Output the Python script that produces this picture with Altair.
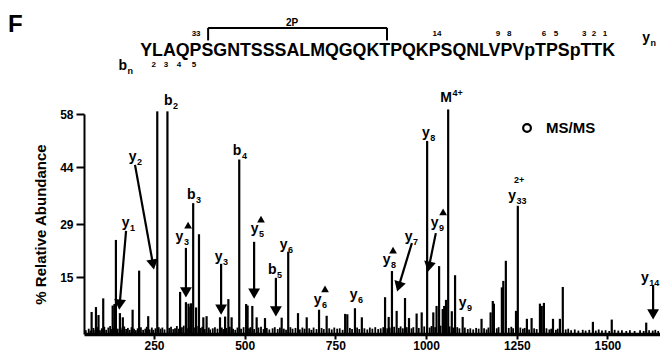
import math
import altair as alt
import pandas as pd

# ---------------- data ----------------
peak_mz = [78, 90, 97, 110, 136, 141, 145, 156, 164, 191,
           209, 234, 259, 287, 322, 338, 345, 350, 352, 358,
           366, 374, 386, 395, 432, 446, 455, 464, 485, 504,
           508, 521, 533, 556, 602, 620, 647, 671, 705, 726,
           777, 783, 804, 823, 887, 897, 906, 919, 942, 953,
           974, 988, 1003, 1020, 1029, 1036, 1046, 1050, 1055, 1061,
           1071, 1080, 1101, 1153, 1178, 1184, 1187, 1209, 1213, 1220,
           1248, 1253, 1278, 1291, 1314, 1319, 1325, 1350, 1369, 1377,
           1460, 1512, 1607]
peak_val = [5.8, 7.1, 5.0, 9.4, 7.5, 7.9, 24.8, 5.5, 4.4, 6.4,
            16.7, 4.7, 58.7, 58.7, 11.1, 8.4, 8.0, 7.2, 8.1, 34.5,
            7.0, 26.3, 4.4, 4.7, 4.4, 4.6, 9.2, 4.4, 46.0, 7.9,
            7.5, 7.4, 4.4, 4.2, 4.3, 21.7, 5.5, 4.4, 6.4, 4.8,
            5.3, 5.2, 6.8, 4.4, 9.7, 4.5, 16.6, 6.1, 9.5, 4.2,
            5.4, 5.7, 50.9, 5.7, 7.4, 17.9, 6.6, 7.4, 9.0, 59.2,
            6.0, 15.5, 4.5, 4.0, 5.7, 8.7, 8.0, 12.3, 14.0, 19.3,
            6.1, 33.8, 4.0, 4.2, 8.0, 7.4, 8.2, 4.0, 4.0, 12.4,
            3.2, 3.8, 3.0]

noise_peaks = [
    (62, 1.0), (70, 1.4), (75, 0.9), (83, 1.6), (88, 1.1), (95, 1.8), (101, 1.0), (106, 1.5),
    (113, 1.9), (118, 1.1), (124, 1.7), (129, 2.1), (133, 1.3), (138, 1.6), (143, 1.8), (150, 1.4),
    (158, 1.7), (162, 1.2), (168, 2.0), (173, 1.3), (178, 1.6), (183, 1.1), (188, 1.8), (195, 1.4),
    (200, 1.0), (205, 1.5), (214, 1.8), (220, 1.1), (226, 1.4), (230, 1.9), (238, 1.2), (244, 1.7),
    (248, 1.1), (254, 1.5), (263, 1.8), (268, 1.4), (273, 1.7), (279, 1.2), (292, 1.6), (297, 1.9),
    (303, 1.3), (308, 1.5), (313, 2.1), (318, 1.4), (327, 1.8), (332, 2.2), (341, 1.5), (349, 1.8),
    (363, 1.7), (368, 2.1), (379, 1.6), (383, 1.9), (390, 1.3), (401, 1.7), (405, 1.2), (412, 1.5),
    (418, 1.8), (425, 1.4), (437, 1.7), (441, 1.3), (450, 1.6), (459, 1.9), (468, 1.4), (474, 1.1),
    (480, 1.7), (490, 1.4), (497, 1.8), (512, 1.5), (516, 1.8), (526, 1.3), (538, 1.7), (545, 1.9),
    (552, 1.3), (561, 1.6), (568, 1.2), (577, 1.5), (583, 1.8), (591, 1.3), (597, 1.7), (608, 1.4),
    (614, 1.1), (626, 1.8), (632, 1.4), (640, 1.6), (652, 1.2), (659, 1.7), (665, 1.4), (678, 1.5),
    (684, 1.1), (690, 1.7), (698, 1.3), (712, 1.6), (718, 1.3), (733, 1.5), (740, 1.2), (747, 1.7),
    (755, 1.4), (762, 1.5), (770, 1.1), (790, 1.6), (796, 1.3), (810, 1.7), (816, 1.3), (830, 1.5),
    (838, 1.2), (845, 1.7), (852, 1.4), (860, 1.8), (868, 1.3), (875, 1.5), (882, 1.8), (893, 1.5),
    (900, 1.7), (912, 1.9), (925, 1.6), (930, 2.0), (936, 1.5), (947, 1.8), (960, 1.5), (965, 1.8),
    (980, 1.6), (995, 2.0), (1010, 1.7), (1015, 2.1), (1025, 1.8), (1040, 2.2), (1065, 2.0), (1075, 1.7),
    (1086, 1.8), (1092, 1.5), (1107, 1.7), (1115, 1.3), (1122, 1.5), (1130, 1.2), (1138, 1.6), (1145, 1.4),
    (1160, 1.5), (1167, 1.2), (1172, 1.7), (1195, 1.5), (1200, 1.8), (1228, 1.6), (1235, 1.9), (1240, 1.5),
    (1260, 1.7), (1267, 1.4), (1272, 1.6), (1284, 1.2), (1298, 1.5), (1305, 1.3), (1332, 1.5), (1340, 1.2),
    (1345, 1.4), (1358, 1.1), (1363, 1.4), (1385, 1.2), (1392, 1.4), (1400, 1.0), (1410, 1.2), (1420, 0.9),
    (1432, 1.1), (1440, 0.9), (1450, 1.1), (1468, 0.9), (1476, 1.2), (1485, 0.9), (1495, 1.0), (1505, 0.8),
    (1520, 1.1), (1530, 0.9), (1540, 1.0), (1552, 0.8), (1562, 1.0), (1575, 0.8), (1590, 1.0), (1600, 0.8),
    (1615, 1.0), (1625, 0.9), (1632, 1.1), (1640, 0.8),
]

# ion labels: main letter, subscript, superscript, anchor (m/z, %)
label_main = ["b", "y", "y", "b", "y", "y", "b", "y", "y", "b", "y", "y", "y", "y", "y", "y", "y", "y", "y", "M", "y", "b"]
label_sub = ["2", "2", "1", "3", "3", "3", "4", "5", "6", "5", "6", "6", "8", "7", "8", "9", "9", "33", "14", "", "n", "n"]
label_sup = ["", "", "", "", "", "", "", "", "", "", "", "", "", "", "", "", "", "", "", "4+", "", ""]
label_mz = [301, 202, 182.5, 364.5, 331, 439, 491, 538, 618, 588, 712, 811, 902, 963, 1010, 1034.5, 1111.6, 1248, 1614, 1071.6, 1617.6, 175.7]
label_val = [61.4, 46.7, 29.3, 36.6, 25.6, 20.3, 48.2, 27.7, 23.5, 16.9, 9.0, 10.3, 19.5, 25.6, 53.0, 29.3, 8.2, 36.4, 14.8, 62.2, 78.0, 70.6]

# triangle markers next to labels
marker_mz = [344, 545, 721.5, 909, 1047]
marker_val = [28.7, 30.3, 11.9, 22.1, 32.2]

# arrows (start -> tip)
arrow_from_mz = [173, 197.6, 338, 435, 526, 586, 961, 1027, 1626]
arrow_from_val = [27.2, 44.6, 22.7, 18.5, 24.3, 14.8, 24.0, 26.6, 12.9]
arrow_to_mz = [154, 250, 338, 435, 526, 586, 920, 1005, 1626]
arrow_to_val = [6.3, 16.9, 9.5, 5.0, 9.2, 4.5, 11.1, 16.3, 3.7]

# header: sequence and residue numbers
sequence = "YLAQPSGNTSSSALMQGQKTPQKPSQNLVPVpTPSpTTK"
num_text = ["33", "14", "9", "8", "6", "5", "3", "2", "1", "2", "3", "4", "5"]
num_mz = [366, 1030, 1198, 1229, 1325, 1358, 1436, 1463, 1493, 249, 283, 319, 360]
num_val = [79.2, 79.2, 79.2, 79.2, 79.2, 79.2, 79.2, 79.2, 79.2, 71.0, 71.0, 71.0, 71.0]

x_ticks = [250, 500, 750, 1000, 1250, 1500]
y_ticks = [15, 29, 44, 58]

# ---------------- layout ----------------
FONT = "Liberation Sans"
W, H = 576, 220
XD = [57, 1645]
YD = [0, 58]
KX = W / (XD[1] - XD[0])
KY = H / (YD[1] - YD[0])

xs = alt.Scale(domain=XD, nice=False, zero=False)
ys = alt.Scale(domain=YD, nice=False, zero=False)

x_axis = alt.Axis(values=x_ticks, format="d", title=None, grid=False,
                  labelFont=FONT, labelFontSize=12, labelFontWeight="bold", labelColor="black",
                  labelPadding=1, tickSize=5, tickWidth=2, tickColor="black",
                  domainWidth=3.5, domainColor="black")
y_axis = alt.Axis(values=y_ticks, title="% Relative Abundance", grid=False,
                  titleFont=FONT, titleFontSize=15, titleFontWeight="bold", titleColor="black",
                  titleAngle=270, titleX=-44, titleY=H / 2, titleAlign="center", titleBaseline="middle",
                  labelFont=FONT, labelFontSize=12, labelFontWeight="bold", labelColor="black",
                  labelPadding=3, tickSize=8, tickWidth=2, tickColor="black",
                  domainWidth=2, domainColor="black")


def X(f):
    return alt.X(f, type="quantitative", scale=xs, axis=x_axis)


def Y(f):
    return alt.Y(f, type="quantitative", scale=ys, axis=y_axis)


peaks_df = pd.DataFrame({"mz": peak_mz, "val": peak_val, "base": 0.0})
noise_df = pd.DataFrame({"mz": [p[0] for p in noise_peaks], "val": [p[1] for p in noise_peaks], "base": 0.0})
labels_df = pd.DataFrame({"main": label_main, "sub": label_sub, "sup": label_sup,
                          "mz": label_mz, "val": label_val})
markers_df = pd.DataFrame({"mz": marker_mz, "val": marker_val})

rows = []
for fm, fv, tm, tv in zip(arrow_from_mz, arrow_from_val, arrow_to_mz, arrow_to_val):
    dx = (tm - fm) * KX
    dy = -(tv - fv) * KY
    L = math.hypot(dx, dy)
    ux, uy = dx / L, dy / L
    back = 5.5
    hm = tm - back * ux / KX
    hv = tv + back * uy / KY
    ang = (math.degrees(math.atan2(ux, -uy)) + 360) % 360
    rows.append({"mz": fm, "val": fv, "hm": hm, "hv": hv, "angle": ang})
arrows_df = pd.DataFrame(rows)

peaks = alt.Chart(peaks_df).mark_rule(color="black", strokeWidth=2.2).encode(
    x=X("mz"), y=Y("val"), y2="base")
noise = alt.Chart(noise_df).mark_rule(color="black", strokeWidth=1.8).encode(
    x=X("mz"), y=Y("val"), y2="base")

shafts = alt.Chart(arrows_df).mark_rule(color="black", strokeWidth=2.2).encode(
    x=X("mz"), y=Y("val"), x2="hm", y2="hv")
heads = alt.Chart(arrows_df).mark_point(shape="triangle-up", filled=True, size=140,
                                        color="black", opacity=1).encode(
    x=X("hm"), y=Y("hv"), angle=alt.Angle("angle:Q", scale=None))

markers = alt.Chart(markers_df).mark_point(shape="triangle-up", filled=True, size=60,
                                           color="black", opacity=1).encode(x=X("mz"), y=Y("val"))

main_txt = alt.Chart(labels_df).mark_text(align="right", baseline="middle", font=FONT,
                                          fontSize=14, fontWeight="bold", color="black").encode(
    x=X("mz"), y=Y("val"), text="main")
sub_txt = alt.Chart(labels_df).mark_text(align="left", baseline="middle", font=FONT, dx=0.5, dy=5,
                                         fontSize=9, fontWeight="bold", color="black").encode(
    x=X("mz"), y=Y("val"), text="sub")
sup_txt = alt.Chart(labels_df).mark_text(align="left", baseline="middle", font=FONT, dx=0.5, dy=-5,
                                         fontSize=9, fontWeight="bold", color="black").encode(
    x=X("mz"), y=Y("val"), text="sup")

extra_df = pd.DataFrame({"t": ["2+"], "mz": [1256.6], "val": [40.6]})
extra_txt = alt.Chart(extra_df).mark_text(align="center", baseline="middle", font=FONT,
                                          fontSize=9, fontWeight="bold", color="black").encode(
    x=X("mz"), y=Y("val"), text="t")

seq_df = pd.DataFrame({"t": [sequence], "mz": [212.0], "val": [73.2]})
seq_txt = alt.Chart(seq_df).mark_text(align="left", baseline="alphabetic", font=FONT,
                                      fontSize=17.8, fontWeight="bold", color="black").encode(
    x=X("mz"), y=Y("val"), text="t")

num_df = pd.DataFrame({"t": num_text, "mz": num_mz, "val": num_val})
num_txt = alt.Chart(num_df).mark_text(align="center", baseline="middle", font=FONT,
                                      fontSize=8, fontWeight="bold", color="black").encode(
    x=X("mz"), y=Y("val"), text="t")

f_df = pd.DataFrame({"t": ["F"], "mz": [-152.5], "val": [79.6]})
f_txt = alt.Chart(f_df).mark_text(align="left", baseline="alphabetic", font=FONT,
                                  fontSize=24, fontWeight="bold", color="black").encode(
    x=X("mz"), y=Y("val"), text="t")

p2_df = pd.DataFrame({"t": ["2P"], "mz": [630.5], "val": [82.0]})
p2_txt = alt.Chart(p2_df).mark_text(align="center", baseline="middle", font=FONT,
                                    fontSize=10, fontWeight="bold", color="black").encode(
    x=X("mz"), y=Y("val"), text="t")

bracket_df = pd.DataFrame({"mz": [399.2, 399.2, 892.4], "val": [80.7, 80.7, 80.7],
                           "x2": [892.4, 399.2, 892.4], "y2": [80.7, 77.4, 77.4]})
bracket = alt.Chart(bracket_df).mark_rule(color="black", strokeWidth=2).encode(
    x=X("mz"), y=Y("val"), x2="x2", y2="y2")

legend_df = pd.DataFrame({"t": ["MS/MS"], "mz": [1278.4], "tm": [1330.8], "val": [54.3]})
legend_circle = alt.Chart(legend_df).mark_point(shape="circle", filled=False, size=60,
                                                strokeWidth=2.2, color="black", opacity=1).encode(
    x=X("mz"), y=Y("val"))
legend_txt = alt.Chart(legend_df).mark_text(align="left", baseline="middle", font=FONT,
                                            fontSize=15, fontWeight="bold", color="black").encode(
    x=X("tm"), y=Y("val"), text="t")

chart = alt.layer(
    peaks, noise, shafts, heads, markers, main_txt, sub_txt, sup_txt, extra_txt,
    seq_txt, num_txt, f_txt, p2_txt, bracket, legend_circle, legend_txt
).properties(
    width=W, height=H,
    autosize=alt.AutoSizeParams(type="none"),
    padding={"left": 76, "top": 106, "right": 0, "bottom": 18},
    background="white",
).configure_view(stroke=None)

chart.save("out.html", embed_options={"renderer": "svg", "actions": False})
